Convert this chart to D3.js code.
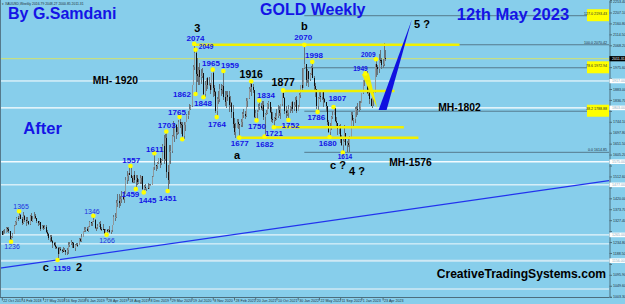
<!DOCTYPE html>
<html>
<head>
<meta charset="utf-8">
<script src="https://cdn.jsdelivr.net/npm/d3@7"></script>
<style>
  body { margin: 0; background: #87ceeb; }
  svg { display: block; font-family: "Liberation Sans", Arial, sans-serif; }
</style>
</head>
<body>
<svg id="chart"></svg>
<script>
// Weekly XAUUSD bars [open, high, low, close], one row per week (weeks start 22 Oct 2017)
const ohlc2017 = [
  [1280,1283,1263,1266],[1266,1284,1264,1269],[1269,1289,1267,1274],[1274,1297,1271,1294],
  [1294,1298,1276,1288],[1288,1299,1271,1280],[1280,1281,1243,1248],[1248,1260,1236,1256],
  [1256,1271,1253,1270],[1270,1306,1270,1303]];
const ohlc2018 = [
  [1303,1326,1302,1321],[1321,1340,1306,1338],[1338,1345,1326,1332],[1332,1365,1331,1350],
  [1350,1355,1331,1333],[1333,1340,1307,1316],[1316,1361,1313,1347],[1347,1350,1321,1330],
  [1330,1340,1303,1322],[1322,1341,1315,1323],[1323,1326,1306,1313],[1313,1350,1306,1347],
  [1347,1356,1322,1325],[1325,1347,1321,1332],[1332,1363,1331,1345],[1345,1354,1333,1336],
  [1336,1338,1315,1323],[1323,1326,1302,1315],[1315,1326,1305,1319],[1319,1320,1282,1292],
  [1292,1307,1288,1302],[1302,1308,1286,1294],[1294,1308,1290,1298],[1298,1309,1275,1278],
  [1278,1285,1261,1270],[1270,1272,1245,1253],[1253,1265,1237,1255],[1255,1264,1236,1241],
  [1241,1245,1211,1231],[1231,1235,1218,1223],[1223,1236,1204,1214],[1214,1219,1205,1211],
  [1211,1213,1159,1184],[1184,1214,1183,1206],[1206,1214,1195,1201],[1201,1207,1190,1198],
  [1198,1212,1193,1194],[1194,1211,1193,1199],[1199,1203,1180,1191],[1191,1208,1182,1203],
  [1203,1233,1183,1222],[1222,1233,1215,1226],[1226,1243,1222,1235],[1235,1237,1211,1232],
  [1232,1237,1208,1209],[1209,1225,1196,1222],[1222,1230,1219,1223],[1223,1229,1213,1222],
  [1222,1250,1221,1248],[1248,1251,1236,1238],[1238,1267,1237,1257],[1257,1283,1256,1280]];
const ohlc2019 = [
  [1280,1298,1277,1285],[1285,1297,1279,1289],[1289,1298,1280,1282],[1282,1304,1276,1304],
  [1304,1326,1298,1318],[1318,1320,1302,1314],[1314,1322,1302,1322],[1322,1346,1320,1328],
  [1328,1333,1291,1293],[1293,1300,1281,1298],[1298,1311,1289,1302],[1302,1320,1298,1313],
  [1313,1325,1287,1292],[1292,1298,1281,1291],[1291,1310,1286,1290],[1290,1292,1270,1275],
  [1275,1289,1268,1286],[1286,1289,1266,1280],[1280,1289,1276,1286],[1286,1303,1275,1277],
  [1277,1287,1269,1284],[1284,1306,1279,1305],[1305,1348,1305,1341],[1341,1358,1323,1341],
  [1341,1411,1337,1399],[1399,1439,1382,1409],[1409,1437,1381,1400],[1400,1428,1386,1416],
  [1416,1453,1401,1426],[1426,1433,1411,1419],[1419,1449,1400,1440],[1440,1510,1440,1497],
  [1497,1535,1480,1513],[1513,1527,1492,1527],[1527,1555,1517,1520],[1520,1557,1506,1507],
  [1507,1513,1484,1488],[1488,1520,1486,1517],[1517,1535,1485,1497],[1497,1519,1459,1505],
  [1505,1517,1475,1488],[1488,1500,1480,1490],[1490,1518,1480,1505],[1505,1516,1482,1514],
  [1514,1516,1456,1459],[1459,1478,1445,1468],[1468,1479,1456,1462],[1462,1464,1452,1463],
  [1463,1485,1458,1460],[1460,1480,1458,1476],[1476,1482,1471,1478],[1478,1514,1476,1511]];
const ohlc2020 = [
  [1511,1553,1509,1552],[1552,1611,1542,1562],[1562,1563,1536,1557],[1557,1574,1546,1571],
  [1571,1590,1565,1589],[1589,1592,1547,1570],[1570,1585,1562,1584],[1584,1649,1580,1643],
  [1643,1689,1564,1585],[1585,1692,1576,1674],[1674,1703,1505,1530],[1530,1560,1451,1498],
  [1498,1645,1482,1617],[1617,1645,1567,1620],[1620,1690,1612,1683],[1683,1747,1680,1683],
  [1683,1739,1659,1729],[1729,1733,1672,1700],[1700,1722,1688,1703],[1703,1752,1692,1743],
  [1743,1765,1718,1734],[1734,1745,1693,1730],[1730,1744,1670,1683],[1683,1744,1671,1730],
  [1730,1745,1704,1743],[1743,1779,1742,1771],[1771,1789,1757,1775],[1775,1818,1771,1798],
  [1798,1815,1795,1810],[1810,1902,1808,1902],[1902,1984,1901,1975],[1975,2074,1962,2035],
  [2035,2049,1862,1945],[1945,2015,1911,1940],[1940,1976,1901,1964],[1964,1992,1902,1933],
  [1933,1966,1906,1940],[1940,1973,1931,1950],[1950,1951,1848,1861],[1861,1917,1851,1899],
  [1899,1930,1873,1930],[1930,1933,1882,1899],[1899,1932,1894,1902],[1902,1910,1860,1879],
  [1879,1952,1877,1951],[1951,1965,1850,1889],[1889,1900,1853,1871],[1871,1875,1781,1788],
  [1788,1848,1764,1839],[1839,1875,1820,1839],[1839,1906,1826,1882],[1882,1906,1853,1877],
  [1877,1900,1862,1895]];
const ohlc2021 = [
  [1895,1959,1835,1850],[1850,1875,1811,1828],[1828,1875,1802,1856],[1856,1875,1832,1848],
  [1848,1875,1785,1814],[1814,1855,1808,1824],[1824,1830,1760,1784],[1784,1816,1717,1734],
  [1734,1760,1687,1700],[1700,1740,1677,1719],[1719,1755,1716,1745],[1745,1755,1712,1733],
  [1733,1735,1677,1729],[1729,1758,1720,1744],[1744,1784,1724,1777],[1777,1797,1760,1777],
  [1777,1790,1756,1768],[1768,1843,1765,1831],[1831,1845,1808,1843],[1843,1890,1840,1881],
  [1881,1912,1870,1904],[1904,1916,1855,1891],[1891,1903,1866,1877],[1877,1877,1761,1764],
  [1764,1795,1761,1781],[1781,1795,1750,1787],[1787,1818,1785,1808],[1808,1834,1792,1812],
  [1812,1825,1794,1802],[1802,1832,1789,1814],[1814,1832,1753,1763],[1763,1782,1682,1779],
  [1779,1795,1772,1781],[1781,1823,1779,1818],[1818,1834,1800,1827],[1827,1827,1782,1787],
  [1787,1808,1745,1754],[1754,1787,1737,1750],[1750,1764,1721,1761],[1761,1781,1746,1757],
  [1757,1800,1750,1768],[1768,1814,1760,1793],[1793,1810,1770,1783],[1783,1818,1758,1818],
  [1818,1868,1812,1865],[1865,1877,1846,1846],[1846,1849,1778,1788],[1788,1809,1762,1783],
  [1783,1793,1770,1783],[1783,1814,1752,1798],[1798,1813,1782,1808],[1808,1829,1789,1829]];
const ohlc2022 = [
  [1829,1831,1782,1797],[1797,1830,1790,1817],[1817,1848,1805,1835],[1835,1853,1780,1791],
  [1791,1815,1788,1808],[1808,1865,1807,1859],[1859,1902,1843,1898],[1898,1974,1878,1889],
  [1889,1972,1888,1970],[1970,2070,1967,1988],[1988,1990,1895,1921],[1921,1966,1910,1958],
  [1958,1960,1890,1925],[1925,1949,1915,1946],[1946,1981,1942,1974],[1974,1998,1928,1931],
  [1931,1936,1872,1896],[1896,1910,1850,1883],[1883,1884,1799,1811],[1811,1850,1786,1846],
  [1846,1870,1839,1853],[1853,1874,1828,1851],[1851,1877,1836,1871],[1871,1879,1805,1839],
  [1839,1847,1822,1827],[1827,1830,1785,1811],[1811,1813,1732,1742],[1742,1752,1697,1703],
  [1703,1739,1680,1727],[1727,1767,1711,1766],[1766,1788,1754,1775],[1775,1807,1773,1802],
  [1802,1802,1745,1747],[1747,1765,1727,1738],[1738,1740,1688,1712],[1712,1730,1691,1716],
  [1716,1735,1654,1675],[1675,1688,1640,1644],[1644,1675,1614,1661],[1661,1730,1660,1695],
  [1695,1696,1642,1644],[1644,1662,1618,1656],[1656,1675,1638,1645],[1645,1682,1617,1681],
  [1681,1787,1675,1771],[1771,1786,1747,1751],[1751,1759,1721,1755],[1755,1805,1739,1797],
  [1797,1810,1765,1797],[1797,1824,1773,1793],[1793,1833,1784,1798],[1798,1833,1795,1824]];
const ohlc2023 = [
  [1824,1865,1823,1865],[1865,1922,1861,1920],[1920,1937,1896,1926],[1926,1949,1916,1928],
  [1928,1959,1861,1865],[1865,1890,1853,1865],[1865,1870,1819,1842],[1842,1847,1809,1811],
  [1811,1858,1804,1856],[1856,1870,1809,1868],[1868,1989,1866,1988],[1988,2009,1934,1978],
  [1978,1986,1944,1969],[1969,2032,1950,2007],[2007,2048,1992,2004],[2004,2015,1969,1983],
  [1983,2009,1974,1990],[1990,2079,1981,2016],[2016,2048,2000,2011]];

// swing points marked with yellow dots
const pivotDates = ["2017-12-10","2018-01-21","2018-08-12","2019-02-17","2019-04-28","2019-09-01",
  "2019-09-29","2019-11-10","2020-01-05","2020-03-08","2020-03-15","2020-05-17","2020-05-31",
  "2020-08-02","2020-08-09","2020-08-09","2020-09-20","2020-11-08","2020-11-29","2021-01-03",
  "2021-03-28","2021-05-30","2021-06-27","2021-07-11","2021-08-08","2021-09-26","2021-11-14",
  "2021-12-12","2022-03-06","2022-04-17","2022-05-15","2022-07-17","2022-08-07","2022-09-25",
  "2023-01-22","2023-03-19"];
const pivotPrices = [1236,1365,1159,1346,1266,1557,1459,1445,1611,1703,1451,1765,1670,2074,2049,
  1862,1848,1965,1764,1959,1677,1916,1750,1834,1682,1721,1877,1752,2070,1998,1786,1680,1807,
  1614,1949,2009];
const pivotLabels = ["1236","1365","1159","1346","1266","1557","1459","1445","1611","1703","1451",
  "1765","","2074","2049","1862","1848","1965","1764","1959","1677","1916","1750","1834","1682",
  "1721","1877","1752","2070","1998","1786","1680","1807","1614","1949","2009"];

// horizontal levels
const mhLevels = [1917, 1803, 1575, 1477, 1265, 1227, 1156, 1036];
const mhLabels = ["MH- 1920", "MH-1802", "MH-1576"];
const mhLabelLevels = [1917, 1803, 1575];
const bidPrice = 2011.31;
const fibRatios = ["127.0", "100.0", "78.6", "38.2", "0.0"];
const fibPrices = [2193.43, 2070.42, 1972.94, 1788.88, 1614.85];
const fibStart = "2022-03-06";
const supportPrices = [2070, 1875, 1721, 1677];
const supportStart = ["2020-08-02", "2021-11-14", "2021-09-26", "2021-03-14"];
const supportEnd = ["2024-06-02", "2023-06-25", "2023-08-13", "2023-10-29"];
const trendDates = ["2018-08-12", "2023-04-23"];
const trendPrices = [1159, 1357];
const projDates = ["2023-04-23", "2023-09-24"];
const projPrices = [1794, 2176];
const wedgeDates = ["2023-01-22", "2023-03-26"];
const wedgePrices = [1946, 1802];
const waveLabels = ["3", "b", "a", "c ?", "4 ?", "c", "2"];
const waveAnchor = [13, 28, 20, 33, 33, 2, 2];   // index into pivots

// axis ticks
const priceTicks = [2253.40,2207.10,2160.80,2114.50,2068.20,2021.90,1975.60,1929.30,1883.00,
  1836.70,1790.40,1744.10,1697.80,1651.50,1605.20,1558.90,1512.60,1466.30,1420.00,1373.70,
  1327.40,1281.10,1234.80,1188.50,1142.20,1095.90,1049.60,1003.30];
const dateTicks = ["2017-10-22","2018-02-04","2018-05-27","2018-09-16","2019-01-06","2019-04-28",
  "2019-08-18","2019-12-08","2020-03-29","2020-07-19","2020-11-08","2021-02-28","2021-06-20",
  "2021-10-10","2022-01-30","2022-05-22","2022-09-11","2023-01-01","2023-04-23"];

const W = 625, H = 304, plotR = 609, plotB = 297;
const parse = d3.timeParse("%Y-%m-%d");
const blue = "#1414e6";

const ohlc = [].concat(ohlc2017, ohlc2018, ohlc2019, ohlc2020, ohlc2021, ohlc2022, ohlc2023);
const weeks = d3.timeWeek.range(new Date(2017, 9, 22), new Date(2023, 4, 8));
const candles = ohlc.map((d, i) => ({ date: weeks[i], o: d[0], h: d[1], l: d[2], c: d[3] }));

const x = d3.scaleTime()
  .domain([new Date(2017, 9, 22), new Date(2023, 3, 23)])
  .range([1.8, 382.6]);
const y = d3.scaleLinear().domain([1002, 2260]).range([plotB, 0]);

const svg = d3.select("#chart").attr("width", W).attr("height", H);
svg.append("rect").attr("width", W).attr("height", H).attr("fill", "#87ceeb");

svg.append("defs").append("clipPath").attr("id", "plot")
  .append("rect").attr("width", plotR).attr("height", plotB);
const plot = svg.append("g").attr("clip-path", "url(#plot)");

// MH levels (white)
const mhWidth = [1, 1.2, 1.5, 1, 1, 1, 2, 1.5];
const mhColor = ["#ffffff", "#ffffff", "#f4fbff", "#ffffff", "#ffffff", "#eef8fc", "#cfe8f4", "#cfe8f4"];
plot.selectAll(".mh").data(mhLevels).join("line")
  .attr("x1", 0).attr("x2", plotR)
  .attr("y1", d => y(d)).attr("y2", d => y(d))
  .attr("stroke", (d, i) => mhColor[i]).attr("stroke-width", (d, i) => mhWidth[i]);

// bid line
plot.append("line").attr("x1", 0).attr("x2", plotR)
  .attr("y1", y(bidPrice)).attr("y2", y(bidPrice))
  .attr("stroke", "#d6e36a").attr("stroke-width", 1);

// fibonacci levels
plot.selectAll(".fib").data(fibPrices).join("line")
  .attr("x1", x(parse(fibStart))).attr("x2", plotR)
  .attr("y1", d => y(d)).attr("y2", d => y(d))
  .attr("stroke", "#557a8c").attr("stroke-width", 1);

// long blue trend line
const t0 = [x(parse(trendDates[0])), y(trendPrices[0])];
const t1 = [x(parse(trendDates[1])), y(trendPrices[1])];
const slope = (t1[1] - t0[1]) / (t1[0] - t0[0]);
plot.append("line")
  .attr("x1", 0).attr("y1", t0[1] - slope * t0[0])
  .attr("x2", plotR).attr("y2", t0[1] + slope * (plotR - t0[0]))
  .attr("stroke", "#2233ee").attr("stroke-width", 1.2);

// candles
const cx = d => Math.round(x(d.date)) + 0.5;
const gC = plot.append("g").attr("shape-rendering", "crispEdges");
gC.selectAll("line").data(candles).join("line")
  .attr("x1", cx).attr("x2", cx)
  .attr("y1", d => y(d.h)).attr("y2", d => y(d.l))
  .attr("stroke", "#66737a").attr("stroke-width", 1);
gC.selectAll("rect").data(candles).join("rect")
  .attr("x", d => cx(d) - 0.5).attr("width", 1)
  .attr("y", d => y(Math.max(d.o, d.c)))
  .attr("height", d => Math.max(1, Math.abs(y(d.o) - y(d.c))))
  .attr("fill", d => d.c >= d.o ? "#8e989c" : "#111111");

// yellow support lines
plot.selectAll(".sup").data(supportPrices).join("line")
  .attr("x1", (d, i) => x(parse(supportStart[i])))
  .attr("x2", (d, i) => x(parse(supportEnd[i])))
  .attr("y1", d => y(d)).attr("y2", d => y(d))
  .attr("stroke", "#f0f000").attr("stroke-width", 2.5);

// yellow wedge
const w0 = [x(parse(wedgeDates[0])), y(wedgePrices[0])];
const w1 = [x(parse(wedgeDates[1])), y(wedgePrices[1])];
plot.append("polygon")
  .attr("points", [[w0[0] - 3.5, w0[1]], [w0[0] + 3.5, w0[1] - 1], w1].join(" "))
  .attr("fill", "#f0f000");

// blue projection wedge
const p0 = [x(parse(projDates[0])), y(projPrices[0])];
const p1 = [x(parse(projDates[1])), y(projPrices[1])];
plot.append("polygon")
  .attr("points", [[p0[0] - 4, p0[1]], [p0[0] + 4, p0[1]], p1].join(" "))
  .attr("fill", "#1010e0");

// pivots
const pv = pivotDates.map((d, i) => ({
  x: x(parse(d)), y: y(pivotPrices[i]), label: pivotLabels[i]
}));
plot.selectAll(".dot").data(pv).join("circle")
  .attr("cx", d => d.x).attr("cy", d => d.y).attr("r", 2.3)
  .attr("fill", "#ffff00");

const pivotOffset = [[1,7.7],[2,-1.8],[4.5,10.7],[-1.4,-2],[0.4,8],[0.7,-2.7],[-5.4,8.3],[3.8,10.6],
  [0.3,-1.5],[0.4,-3.2],[0.1,9.8],[-2.6,-1.9],[0,0],[1.3,-2.5],[10.5,-0.9],[-13.5,2.7],[-0.5,8.4],
  [-1.8,-3.5],[0.2,9.6],[6.6,-3.4],[0.4,8.5],[0,-3],[0.4,8.3],[6.8,-2.6],[0.2,10.2],[0.2,8.4],
  [0.2,-4.7],[2.1,8.5],[-1.1,-4.5],[1.7,-4],[-1.3,7.6],[-1.8,8.8],[3.8,-6],[2.2,6.7],[-4.9,-2.7],
  [-7.7,-2.1]];
const pivotStyle = ["t","t","b","t","t","b","b","b","b","b","b","b","b","b","s","b","b","b","b","b",
  "b","k","b","b","b","b","k","b","b","b","b","b","b","s","s","s"];
const styles = {
  b: { size: 8, weight: "bold", fill: blue },
  s: { size: 6.5, weight: "bold", fill: blue },
  t: { size: 7, weight: "normal", fill: "#2233dd" },
  k: { size: 10.5, weight: "bold", fill: "#000" }
};
svg.selectAll(".plab").data(pv).join("text")
  .attr("x", (d, i) => d.x + pivotOffset[i][0])
  .attr("y", (d, i) => d.y + pivotOffset[i][1])
  .attr("text-anchor", "middle")
  .attr("font-size", (d, i) => styles[pivotStyle[i]].size)
  .attr("font-weight", (d, i) => styles[pivotStyle[i]].weight)
  .attr("fill", (d, i) => styles[pivotStyle[i]].fill)
  .text(d => d.label);

// wave labels
const waveOffset = [[3,-12],[0,-15],[-2.3,21.5],[-4.8,16.4],[14.2,22.4],[-11.7,10.7],[21.5,10.7]];
svg.selectAll(".wave").data(waveLabels).join("text")
  .attr("x", (d, i) => pv[waveAnchor[i]].x + waveOffset[i][0])
  .attr("y", (d, i) => pv[waveAnchor[i]].y + waveOffset[i][1])
  .attr("text-anchor", "middle").attr("font-size", 11).attr("font-weight", "bold")
  .attr("fill", "#000").text(d => d);
svg.append("text").attr("x", p1[0] + 2.2).attr("y", p1[1] + 7.7)
  .attr("font-size", 11).attr("font-weight", "bold").attr("fill", "#000").text("5 ?");

// MH labels
const mhX = [92.7, 438.3, 389.3];
const mhDy = [3.5, 3.1, 4.5];
svg.selectAll(".mhl").data(mhLabels).join("text")
  .attr("x", (d, i) => mhX[i]).attr("y", (d, i) => y(mhLabelLevels[i]) + mhDy[i])
  .attr("font-size", 10.3).attr("font-weight", "bold").attr("fill", "#000").text(d => d);

// fib labels
const fibBoxed = [true, false, true, true, false];
const gF = svg.append("g");
fibPrices.forEach((p, i) => {
  if (fibBoxed[i]) {
    gF.append("rect").attr("x", 587).attr("y", y(p) - 6.5).attr("width", 22).attr("height", 12)
      .attr("fill", "#ffff00");
  }
  gF.append("text").attr("x", 607).attr("y", y(p) - 1).attr("text-anchor", "end")
    .attr("font-size", 3.6).attr("fill", "#1c2e38").text(fibRatios[i] + "  " + p.toFixed(2));
});

// frame
svg.append("line").attr("x1", 0.5).attr("x2", 0.5).attr("y1", 0).attr("y2", plotB)
  .attr("stroke", "#557a8c");
svg.append("line").attr("x1", 0).attr("x2", plotR + 0.5).attr("y1", plotB + 0.5).attr("y2", plotB + 0.5)
  .attr("stroke", "#4d6e7d");

// level boxes sit on the price axis; hide tick labels they cover
const boxLevels = [1917, 1803, 1575, 1477, 1265, 1156];
const covered = v => Math.abs(y(v) - y(bidPrice)) < 4 || boxLevels.some(p => Math.abs(y(v) - y(p)) < 4);

// right price axis
const yAxis = svg.append("g").attr("transform", `translate(${plotR + 0.5},0)`)
  .call(d3.axisRight(y).tickValues(priceTicks).tickSize(2.5).tickFormat(d3.format(".2f")));
yAxis.select(".domain").attr("stroke", "#4d6e7d");
yAxis.selectAll(".tick line").attr("stroke", "#4d6e7d");
yAxis.selectAll("text").attr("x", 3.5).attr("font-size", 3.6).attr("fill", "#1c2e38")
  .attr("font-family", "Liberation Sans, Arial, sans-serif")
  .attr("display", d => covered(d) ? "none" : null);

boxLevels.forEach(p => {
  svg.append("rect").attr("x", plotR + 0.5).attr("y", y(p) - 2.3).attr("width", 16).attr("height", 4.6)
    .attr("fill", "#ffffff");
  svg.append("text").attr("x", plotR + 3).attr("y", y(p) + 1.2).attr("font-size", 3.6)
    .attr("fill", "#8ab").text(p.toFixed(2));
});
svg.append("rect").attr("x", plotR + 0.5).attr("y", y(bidPrice) - 2.6).attr("width", 16).attr("height", 5.2)
  .attr("fill", "#000");
svg.append("text").attr("x", plotR + 3).attr("y", y(bidPrice) + 1.3).attr("font-size", 3.6)
  .attr("fill", "#fff").text(bidPrice.toFixed(2));

// bottom time axis
const fmt = d3.timeFormat("%-d %b %Y");
const xAxis = svg.append("g").attr("transform", `translate(0,${plotB + 0.5})`)
  .call(d3.axisBottom(x).tickValues(dateTicks.map(parse)).tickSize(3).tickFormat(fmt));
xAxis.select(".domain").remove();
xAxis.selectAll(".tick line").attr("stroke", "#4d6e7d");
xAxis.selectAll("text").attr("text-anchor", "start").attr("x", 1).attr("y", 4.8).attr("dy", 0)
  .attr("font-size", 3.6).attr("fill", "#1c2e38")
  .attr("font-family", "Liberation Sans, Arial, sans-serif");

// header and titles
svg.append("text").attr("x", 2).attr("y", 4.6).attr("font-size", 3.4).attr("fill", "#1c2e38")
  .text("\u25BE XAUUSD,Weekly  2016.79 2048.27 2000.85 2011.31");
svg.append("text").attr("x", 8).attr("y", 19).attr("font-size", 16).attr("font-weight", "bold")
  .attr("fill", blue).text("By G.Samdani");
svg.append("text").attr("x", 260).attr("y", 15).attr("font-size", 16).attr("font-weight", "bold")
  .attr("fill", blue).text("GOLD Weekly");
svg.append("text").attr("x", 456.7).attr("y", 20).attr("font-size", 16.6).attr("font-weight", "bold")
  .attr("fill", blue).text("12th May 2023");
svg.append("text").attr("x", 23.3).attr("y", 134.3).attr("font-size", 16.5).attr("font-weight", "bold")
  .attr("fill", blue).text("After");
svg.append("text").attr("x", 436.7).attr("y", 278.3).attr("font-size", 12.1).attr("font-weight", "bold")
  .attr("fill", "#000").text("CreativeTradingSystems.com");
</script>
</body>
</html>
